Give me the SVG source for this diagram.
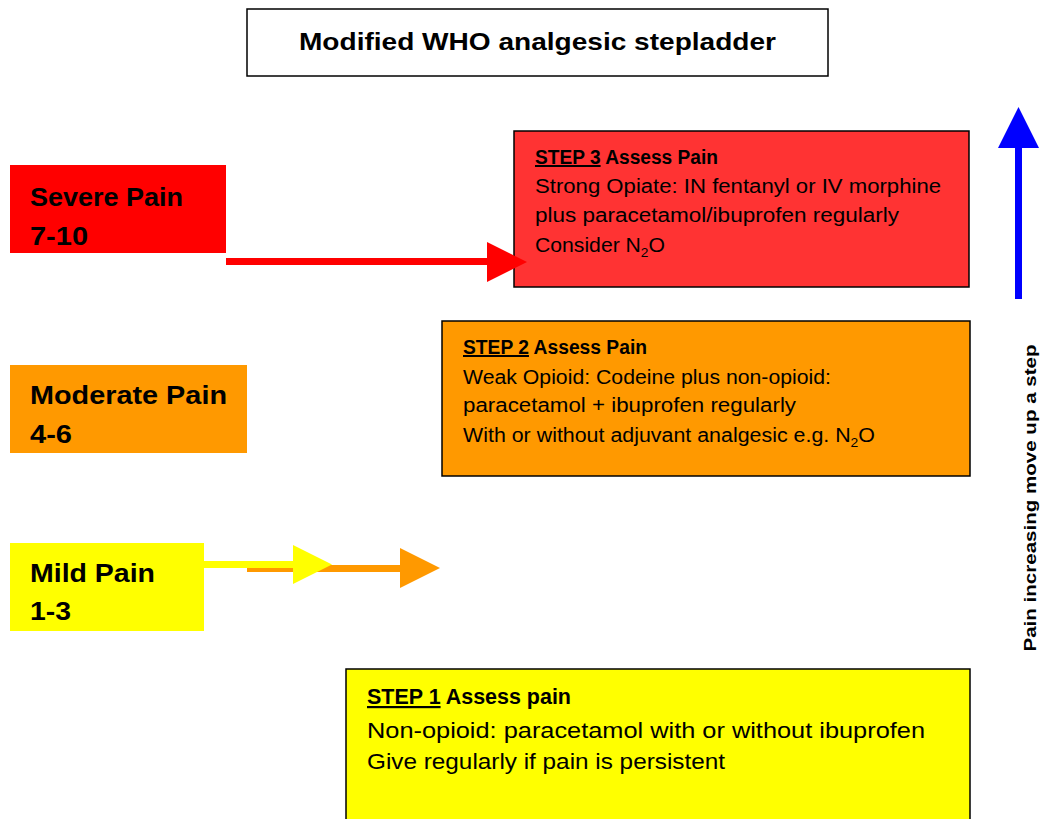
<svg xmlns="http://www.w3.org/2000/svg" width="1045" height="819" viewBox="0 0 1045 819">
<style>
text{font-family:"Liberation Sans",Arial,sans-serif;fill:#000}
.b{font-weight:bold}
.lvl{font-weight:bold;font-size:26px}
.s{font-size:20px}
.s1{font-size:22px}
.u{text-decoration:underline}
.box{stroke:#000;stroke-width:1.5}
</style>
<rect width="1045" height="819" fill="#fff"/>
<g id="title">
<rect x="247" y="9" width="581" height="67" fill="#fff" class="box"/>
<text x="299" y="50" class="b" font-size="24" textLength="477" lengthAdjust="spacingAndGlyphs">Modified WHO analgesic stepladder</text>
</g>
<g id="severe">
<rect x="10" y="165" width="216" height="88" fill="#FF0000"/>
<text x="30" y="206" class="lvl" textLength="153" lengthAdjust="spacingAndGlyphs">Severe Pain</text>
<text x="30" y="245" class="lvl" textLength="58" lengthAdjust="spacingAndGlyphs">7-10</text>
</g>
<g id="moderate">
<rect x="10" y="365" width="237" height="88" fill="#FF9900"/>
<text x="30" y="404" class="lvl" textLength="197" lengthAdjust="spacingAndGlyphs">Moderate Pain</text>
<text x="30" y="443" class="lvl" textLength="42" lengthAdjust="spacingAndGlyphs">4-6</text>
</g>
<g id="mild">
<rect x="10" y="543" width="194" height="88" fill="#FFFF00"/>
<text x="30" y="582" class="lvl" textLength="125" lengthAdjust="spacingAndGlyphs">Mild Pain</text>
<text x="30" y="620" class="lvl" textLength="41" lengthAdjust="spacingAndGlyphs">1-3</text>
</g>
<g id="step3">
<rect x="514" y="131" width="455" height="156" fill="#FF3333" class="box"/>
<text x="535" y="164" class="s b" textLength="183" lengthAdjust="spacingAndGlyphs"><tspan class="u">STEP 3</tspan> Assess Pain</text>
<text x="535" y="193" class="s" textLength="406" lengthAdjust="spacingAndGlyphs">Strong Opiate: IN fentanyl or IV morphine</text>
<text x="535" y="222" class="s" textLength="364" lengthAdjust="spacingAndGlyphs">plus paracetamol/ibuprofen regularly</text>
<text x="535" y="252" class="s" textLength="130" lengthAdjust="spacingAndGlyphs">Consider N<tspan font-size="13" dy="5">2</tspan><tspan dy="-5">O</tspan></text>
</g>
<g id="step2">
<rect x="442" y="321" width="528" height="155" fill="#FF9900" class="box"/>
<text x="463" y="354" class="s b" textLength="184" lengthAdjust="spacingAndGlyphs"><tspan class="u">STEP 2</tspan> Assess Pain</text>
<text x="463" y="384" class="s" textLength="368" lengthAdjust="spacingAndGlyphs">Weak Opioid: Codeine plus non-opioid:</text>
<text x="463" y="412" class="s" textLength="333" lengthAdjust="spacingAndGlyphs">paracetamol + ibuprofen regularly</text>
<text x="463" y="442" class="s" textLength="412" lengthAdjust="spacingAndGlyphs">With or without adjuvant analgesic e.g. N<tspan font-size="13" dy="5">2</tspan><tspan dy="-5">O</tspan></text>
</g>
<g id="step1">
<rect x="346" y="669" width="624" height="160" fill="#FFFF00" class="box"/>
<text x="367" y="704" class="s1 b" textLength="204" lengthAdjust="spacingAndGlyphs"><tspan class="u">STEP 1</tspan> Assess pain</text>
<text x="367" y="738" class="s1" textLength="558" lengthAdjust="spacingAndGlyphs">Non-opioid: paracetamol with or without ibuprofen</text>
<text x="367" y="769" class="s1" textLength="358" lengthAdjust="spacingAndGlyphs">Give regularly if pain is persistent</text>
</g>
<g id="connectors">
<rect x="226" y="258" width="263" height="7" fill="#FF0000"/>
<polygon points="487,242 527,262 487,282" fill="#FF0000"/>
<rect x="247" y="565" width="155" height="7" fill="#FF9900"/>
<polygon points="400,548 440,568 400,588" fill="#FF9900"/>
<rect x="204" y="561" width="91" height="7" fill="#FFFF00"/>
<polygon points="293,545 332,564.5 293,584" fill="#FFFF00"/>
<rect x="1015" y="145" width="7" height="154" fill="#0000FF"/>
<polygon points="1018.5,107 1039,148 998,148" fill="#0000FF"/>
</g>
<g id="axis-label">
<text transform="translate(1036,498) rotate(-90)" text-anchor="middle" class="b" font-size="17" textLength="307" lengthAdjust="spacingAndGlyphs">Pain increasing move up a step</text>
</g>
</svg>
